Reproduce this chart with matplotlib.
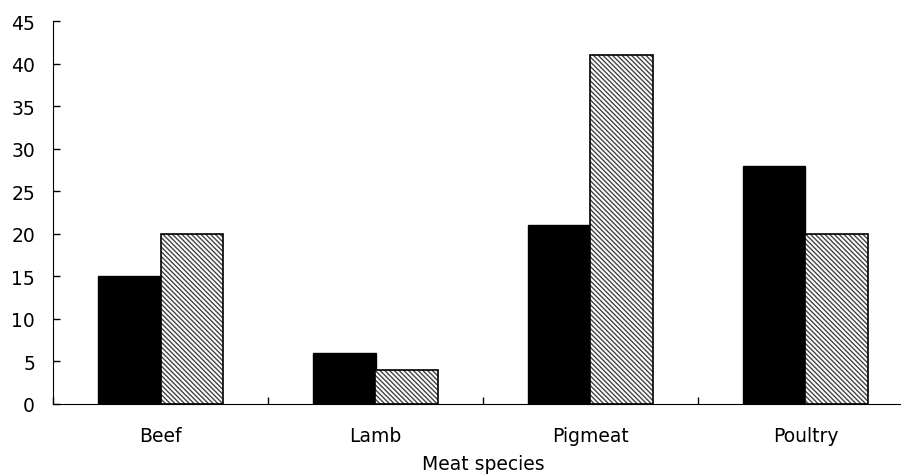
import matplotlib
matplotlib.use("Agg")
import numpy as np
from matplotlib import pyplot as plt

species = ["Beef", "Lamb", "Pigmeat", "Poultry"]
series_black = [15, 6, 21, 28]
series_hatched = [20, 4, 41, 20]
y_ticks = [0, 5, 10, 15, 20, 25, 30, 35, 40, 45]

plt.rcParams["font.family"] = ["DejaVu Sans"]
plt.rcParams["hatch.linewidth"] = 1.0

fig = plt.figure(figsize=(9.01, 4.77), dpi=100)
ax = fig.add_axes([53 / 901, 72 / 477, 860 / 901, 383 / 477])

centers = np.arange(len(species)) + 0.5
width = 0.29

ax.bar(centers - width / 2, series_black, width, color="black",
       edgecolor="black", linewidth=1)
ax.bar(centers + width / 2, series_hatched, width, color="white",
       edgecolor="#444444", hatch="\\" * 7, linewidth=0)
ax.bar(centers + width / 2, series_hatched, width, fill=False,
       edgecolor="black", linewidth=1.2)

ax.set_xlim(0, len(species))
ax.set_ylim(0, 45)
ax.set_yticks(y_ticks)
ax.set_xticks(np.arange(len(species) + 1))
ax.set_xticklabels([])
ax.set_xticks(centers, minor=True)
ax.set_xticklabels(species, minor=True)
ax.tick_params(axis="x", which="minor", length=0, pad=16, labelsize=13.5)
ax.tick_params(axis="x", which="major", direction="in", length=5, width=1)
ax.tick_params(axis="y", direction="in", length=5, width=1, pad=13,
               labelsize=13.5)

ax.spines["top"].set_visible(False)
ax.spines["right"].set_visible(False)
ax.set_xlabel("Meat species", fontsize=13.5, labelpad=6)

fig.savefig("out.png", dpi=100)
